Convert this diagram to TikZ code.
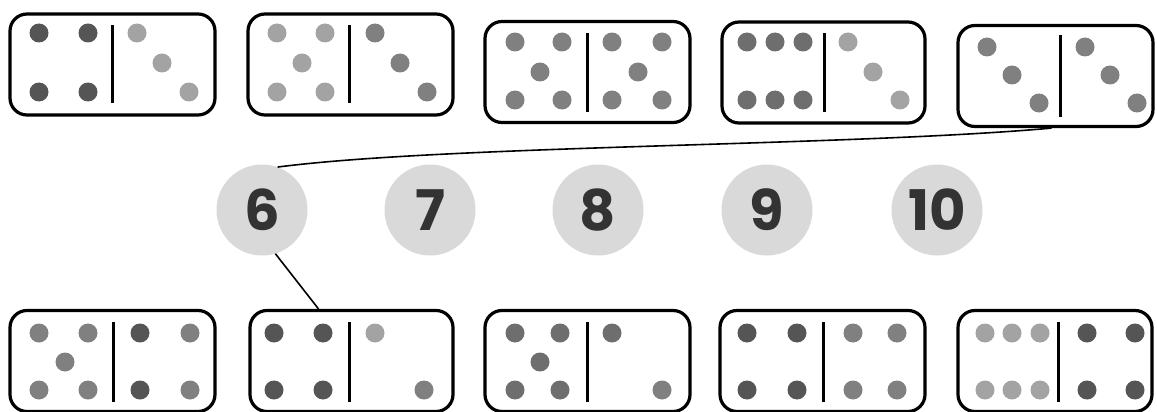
\documentclass[tikz,border=0pt]{standalone}
\usepackage{fontspec}
\newfontfamily\numfont{Poppins}
\begin{document}
\begin{tikzpicture}[x=1pt,y=-1pt,
  domino/.style={draw=black,line width=3.2pt,rounded corners=17pt,minimum width=#1,minimum height=101pt,inner sep=0pt},
  domino/.default=205pt,
  numcirc/.style={circle,fill=numgray,minimum size=91pt,inner sep=0pt,text=numtext,font=\numfont\bfseries\fontsize{56}{56}\selectfont},
  divider/.style={line width=3pt,black},
  link/.style={line width=1.6pt,black}]
\definecolor{numgray}{HTML}{D9D9D9}
\definecolor{numtext}{HTML}{333333}
\definecolor{dk}{HTML}{555555}
\definecolor{md}{HTML}{808080}
\definecolor{mdd}{HTML}{6E6E6E}
\definecolor{lt}{HTML}{A3A3A3}
\useasboundingbox (0,0) rectangle (1157,412);
\fill[white] (0,0) rectangle (1157,412);
\def\dotr{9.5}
% top row
\node[domino] (d1) at (112.5,64.5) {};
\node[domino] (d2) at (350.5,64.5) {};
\node[domino] (d3) at (587.5,72) {};
\node[domino=203pt] (d4) at (823.5,72.5) {};
\node[domino=195pt] (d5) at (1055.5,76) {};
\draw[divider] (112,25) -- (112,103);
\draw[divider] (349,25) -- (349,103);
\draw[divider] (587,33) -- (587,112);
\draw[divider] (824,33) -- (824,112);
\draw[divider] (1060,35) -- (1060,117);
\foreach \p in {(39,33),(88,33),(39,92),(88,92)} \fill[dk] \p circle (\dotr);
\foreach \p in {(137,33),(162,63),(189,92)} \fill[lt] \p circle (\dotr);
\foreach \p in {(277,33),(325,33),(302,63),(277,92),(325,92)} \fill[lt] \p circle (\dotr);
\foreach \p in {(375,33),(400,63),(427,92)} \fill[md] \p circle (\dotr);
\foreach \p in {(515,42),(562,42),(540,72),(515,100),(562,100),(612,42),(662,42),(638,72),(612,100),(662,100)} \fill[md] \p circle (\dotr);
\foreach \p in {(747,42),(775,42),(803,42),(747,100),(775,100),(803,100)} \fill[mdd] \p circle (\dotr);
\foreach \p in {(848,42),(873,72),(900,100)} \fill[lt] \p circle (\dotr);
\foreach \p in {(987,47),(1012,75),(1039,103),(1085,47),(1110,75),(1137,103)} \fill[md] \p circle (\dotr);
% number circles
\node[numcirc] (c6) at (262,210) {6};
\node[numcirc] (c7) at (430,210) {7};
\node[numcirc] (c8) at (598,210) {8};
\node[numcirc] (c9) at (767,210) {9};
\node[numcirc] (c10) at (937,210) {10};
% bottom row
\node[domino=205pt] (b1) at (112.5,361) {};
\node[domino=203pt] (b2) at (351.5,361) {};
\node[domino=205pt] (b3) at (587.5,361) {};
\node[domino=205pt] (b4) at (822.5,361) {};
\node[domino=194pt] (b5) at (1055,361) {};
\draw[divider] (113,322) -- (113,402);
\draw[divider] (349,322) -- (349,402);
\draw[divider] (587,322) -- (587,402);
\draw[divider] (823,322) -- (823,402);
\draw[divider] (1058,322) -- (1058,402);
\foreach \p in {(39,333),(88,333),(65,362),(39,390),(88,390)} \fill[md] \p circle (\dotr);
\foreach \p in {(140,333),(140,390)} \fill[dk] \p circle (\dotr);
\foreach \p in {(190,333),(190,390)} \fill[md] \p circle (\dotr);
\foreach \p in {(274,333),(323,333),(274,390),(323,390)} \fill[dk] \p circle (\dotr);
\fill[lt] (375,333) circle (\dotr);
\fill[md] (424,390) circle (\dotr);
\foreach \p in {(515,333),(560,333),(540,362),(515,390),(560,390)} \fill[mdd] \p circle (\dotr);
\fill[mdd] (612,333) circle (\dotr);
\fill[md] (662,390) circle (\dotr);
\foreach \p in {(747,333),(797,333),(747,390),(797,390)} \fill[dk] \p circle (\dotr);
\foreach \p in {(853,333),(897,333),(853,390),(897,390)} \fill[md] \p circle (\dotr);
\foreach \p in {(985,333),(1012,333),(1040,333),(985,390),(1012,390),(1040,390)} \fill[lt] \p circle (\dotr);
\foreach \p in {(1087,333),(1135,333),(1087,390),(1135,390)} \fill[dk] \p circle (\dotr);
% connectors
\draw[link] ([xshift=-4pt]d5.south) .. controls +(-200,18) and +(170,-22) .. (c6.70);
\draw[link] (c6.-73) -- ([xshift=-33pt]b2.north);
\end{tikzpicture}
\end{document}
